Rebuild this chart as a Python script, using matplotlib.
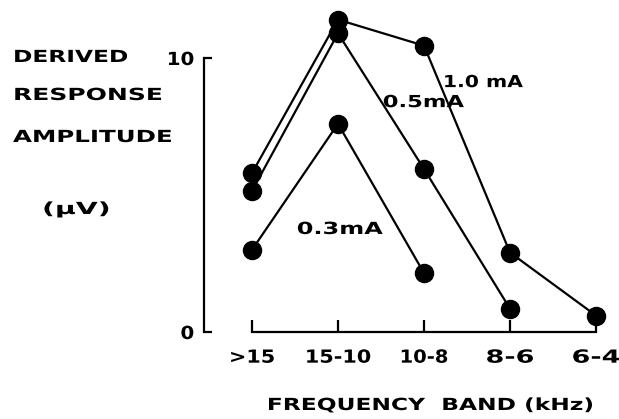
import matplotlib
matplotlib.use('Agg')
import matplotlib.pyplot as plt
import matplotlib.patheffects as pe
from matplotlib.transforms import Affine2D

# ---- data ----
bands = ['>15', '15-10', '10-8', '8-6', '6-4']
amp_1_0 = [5.8, 11.4, 10.45, 2.9, 0.6]
amp_0_5 = [5.15, 10.9, 5.95, 0.85]
amp_0_3 = [3.0, 7.6, 2.15]
series_labels = ['1.0 mA', '0.5mA', '0.3mA']
y_ticks = [0, 10]
y_tick_labels = ['0', '10']
y_title = ['DERIVED', 'RESPONSE', 'AMPLITUDE', '(μV)']
x_title = 'FREQUENCY  BAND (kHz)'


class Stretch(pe.AbstractPathEffect):
    """Widen glyphs horizontally (wide geometric lettering of the original)."""
    def __init__(self, sx, align='left'):
        super().__init__()
        self.sx = sx
        self.align = align

    def draw_path(self, renderer, gc, tpath, affine, rgbFace=None):
        ext = tpath.get_extents()
        if self.align == 'left':
            cx = 0.0
        elif self.align == 'center':
            cx = (ext.x0 + ext.x1) / 2
        else:
            cx = ext.x1
        t = Affine2D().translate(-cx, 0).scale(self.sx, 1).translate(cx, 0) + affine
        renderer.draw_path(gc, tpath, t, rgbFace)


plt.rcParams['font.family'] = ['DejaVu Sans']
W, H = 619, 419
fig = plt.figure(figsize=(W / 100, H / 100), dpi=100)

# axes placement (pixels)
x0_px, dx_px = 252, 86.0
y0_px, dy_px = 332, 27.4
xlim = (-0.6, 4.25)
ylim = (-1.0, 12.0)
left = x0_px + xlim[0] * dx_px
right = x0_px + xlim[1] * dx_px
bottom = y0_px - ylim[0] * dy_px
top = y0_px - ylim[1] * dy_px
ax = fig.add_axes([left / W, 1 - bottom / H, (right - left) / W, (bottom - top) / H])
ax.set_xlim(*xlim)
ax.set_ylim(*ylim)
ax.patch.set_alpha(0)

xs = list(range(len(bands)))
style = dict(color='black', lw=1.6, marker='o', markersize=13, clip_on=False)
ax.plot(xs[:len(amp_1_0)], amp_1_0, **style)
ax.plot(xs[:len(amp_0_5)], amp_0_5, **style)
ax.plot(xs[:len(amp_0_3)], amp_0_3, **style)

# spines
for s in ['top', 'right']:
    ax.spines[s].set_visible(False)
ax.spines['left'].set_position(('data', -0.56))
ax.spines['left'].set_bounds(0, 10)
ax.spines['bottom'].set_position(('data', 0))
ax.spines['bottom'].set_bounds(0, len(bands) - 1)
for s in ['left', 'bottom']:
    ax.spines[s].set_linewidth(1.6)

fs = 12
tfs = 13
ax.set_yticks(y_ticks)
ax.set_yticklabels(y_tick_labels, fontsize=tfs, fontweight='bold')
ax.set_xticks(xs)
ax.set_xticklabels(bands, fontsize=tfs, fontweight='bold')
ax.tick_params(axis='y', direction='in', length=6, width=1.6, pad=7)
ax.tick_params(axis='x', direction='in', length=8.5, width=1.6, pad=12)
x_stretch = [1.15, 1.15, 1.08, 1.5, 1.5]
for lab, s in zip(ax.get_xticklabels(), x_stretch):
    lab.set_path_effects([Stretch(s, 'center')])
for lab in ax.get_yticklabels():
    lab.set_path_effects([Stretch(1.1, 'right')])

# series labels
lbl_pos = [(2.22, 9.12), (1.52, 8.39), (0.52, 3.76)]
lbl_stretch = [1.22, 1.36, 1.44]
for (lx, ly), t, s in zip(lbl_pos, series_labels, lbl_stretch):
    ax.text(lx, ly, t, fontsize=fs, fontweight='bold', ha='left', va='center',
            path_effects=[Stretch(s, 'left')])

# y title (stacked)
ty = [57, 95, 137, 209]
tx = [13, 13, 13, 42]
ts = [1.4, 1.5, 1.47, 1.7]
for t, xx, yy, s in zip(y_title, tx, ty, ts):
    fig.text(xx / W, 1 - yy / H, t, fontsize=fs, fontweight='bold', ha='left', va='center',
             path_effects=[Stretch(s, 'left')])

fig.text(430 / W, 1 - 405 / H, x_title, fontsize=fs, fontweight='bold', ha='center', va='center',
         path_effects=[Stretch(1.4, 'center')])

fig.savefig('out.png', dpi=100)
